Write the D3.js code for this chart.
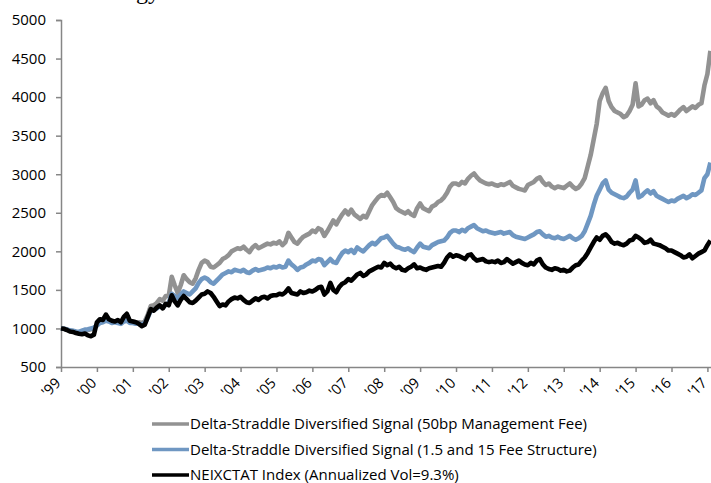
<!DOCTYPE html>
<html><head><meta charset="utf-8">
<script src="https://cdn.jsdelivr.net/npm/d3@7"></script>
<style>
html,body{margin:0;padding:0;background:#fff;}
svg{display:block;}
text{font-family:"Open Sans","Noto Sans",sans-serif;}
</style></head>
<body>
<svg id="c" width="711" height="483"></svg>
<script>
// Monthly observations starting Jan 1999
const startYear = 1999;
const yTicks = [500,1000,1500,2000,2500,3000,3500,4000,4500,5000];
const xTickYears = [1999,2000,2001,2002,2003,2004,2005,2006,2007,2008,2009,2010,2011,2012,2013,2014,2015,2016,2017];
const xTickLabels = ["'99","'00","'01","'02","'03","'04","'05","'06","'07","'08","'09","'10","'11","'12","'13","'14","'15","'16","'17"];
const seriesNames = [
  "Delta-Straddle Diversified Signal (50bp Management Fee)",
  "Delta-Straddle Diversified Signal (1.5 and 15 Fee Structure)",
  "NEIXCTAT Index (Annualized Vol=9.3%)"
];
const gray50bp = [
  1000,995,985,970,965,955,950,960,975,980,990,1000,
  1040,1080,1090,1120,1100,1080,1090,1090,1070,1110,1120,1090,
  1090,1080,1080,1070,1090,1180,1290,1300,1330,1380,1360,1420,
  1420,1670,1560,1460,1560,1690,1640,1600,1580,1650,1760,1850,
  1880,1860,1800,1790,1820,1850,1900,1920,1950,2000,2020,2040,
  2030,2060,2020,1990,2050,2080,2040,2060,2080,2100,2090,2110,
  2100,2130,2080,2120,2240,2180,2120,2100,2150,2190,2210,2230,
  2270,2250,2300,2280,2200,2260,2330,2400,2350,2420,2480,2530,
  2480,2540,2480,2450,2420,2460,2440,2520,2600,2650,2700,2730,
  2720,2760,2700,2640,2560,2530,2510,2490,2520,2480,2460,2560,
  2620,2560,2540,2520,2580,2600,2640,2660,2700,2760,2840,2880,
  2880,2860,2900,2880,2940,2980,3010,2960,2920,2900,2880,2870,
  2880,2860,2850,2870,2860,2880,2900,2850,2830,2810,2800,2790,
  2860,2880,2900,2940,2960,2900,2860,2880,2840,2820,2840,2830,
  2820,2850,2880,2840,2810,2830,2880,2950,3100,3250,3450,3650,
  3950,4050,4120,3950,3870,3820,3800,3780,3740,3760,3820,3900,
  4180,3880,3900,3960,3980,3920,3960,3880,3850,3800,3780,3760,
  3780,3760,3800,3840,3870,3820,3850,3880,3860,3900,3920,4150,
  4300,4600
];
const blueFee = [
  1000,995,985,975,970,960,955,970,985,990,1000,1010,
  1040,1070,1080,1100,1090,1070,1080,1070,1060,1090,1100,1070,
  1070,1060,1060,1050,1070,1140,1230,1240,1260,1290,1270,1310,
  1330,1450,1420,1390,1440,1480,1460,1440,1480,1520,1590,1640,
  1660,1640,1600,1580,1620,1660,1700,1720,1740,1730,1760,1750,
  1740,1760,1730,1720,1750,1770,1750,1760,1770,1790,1780,1800,
  1790,1810,1790,1800,1880,1830,1800,1760,1790,1800,1830,1850,
  1880,1870,1900,1890,1820,1860,1900,1860,1850,1920,1980,2010,
  1990,2020,1980,2050,2020,2000,2040,2080,2110,2090,2130,2170,
  2180,2200,2150,2100,2060,2050,2030,2020,2040,2010,1990,2050,
  2100,2060,2050,2040,2080,2100,2120,2130,2140,2180,2240,2270,
  2270,2250,2280,2260,2300,2320,2340,2300,2280,2260,2270,2250,
  2240,2230,2240,2250,2230,2240,2250,2210,2190,2180,2170,2160,
  2180,2200,2220,2250,2260,2220,2190,2200,2180,2170,2190,2170,
  2160,2180,2200,2170,2150,2170,2200,2260,2360,2460,2600,2720,
  2800,2880,2920,2800,2760,2740,2720,2700,2690,2710,2760,2800,
  2920,2700,2720,2760,2790,2750,2780,2720,2700,2680,2660,2640,
  2660,2650,2680,2700,2720,2690,2710,2740,2730,2760,2790,2950,
  3000,3150
];
const blackIndex = [
  1000,995,980,960,955,940,930,925,935,910,900,920,
  1080,1120,1110,1180,1120,1100,1090,1110,1080,1150,1190,1100,
  1090,1080,1060,1030,1050,1150,1250,1230,1270,1300,1260,1320,
  1300,1430,1350,1300,1370,1420,1380,1340,1330,1360,1400,1440,
  1450,1480,1460,1410,1350,1290,1310,1300,1350,1380,1400,1390,
  1410,1370,1340,1330,1360,1390,1370,1400,1410,1390,1420,1430,
  1430,1450,1440,1470,1520,1460,1450,1440,1480,1460,1470,1490,
  1480,1500,1530,1540,1440,1480,1590,1500,1470,1540,1580,1600,
  1640,1620,1660,1700,1720,1680,1700,1740,1760,1780,1800,1790,
  1850,1820,1840,1800,1780,1800,1760,1750,1780,1800,1830,1780,
  1790,1770,1760,1780,1790,1800,1810,1800,1850,1920,1960,1930,
  1950,1940,1920,1900,1950,1960,1910,1880,1890,1900,1870,1860,
  1870,1860,1880,1850,1860,1900,1870,1840,1860,1880,1850,1830,
  1820,1850,1830,1880,1900,1830,1790,1770,1760,1780,1770,1750,
  1760,1740,1750,1790,1820,1830,1880,1920,1980,2050,2120,2180,
  2150,2200,2220,2180,2120,2100,2110,2090,2080,2100,2140,2150,
  2200,2180,2150,2110,2120,2150,2100,2090,2080,2060,2040,2010,
  2010,1990,1970,1950,1920,1930,1960,1910,1940,1970,1990,2010,
  2080,2140
];
const seriesValues = [gray50bp, blueFee, blackIndex];
const seriesColors = ["#929292", "#6f97c2", "#000000"];

const svg = d3.select("#c");
const x = d3.scaleLinear().domain([1999, 2017.1]).range([61, 711]);
const y = d3.scaleLinear().domain([500, 5000]).range([367, 20]);

// title fragment (cut off at top)
svg.append("text").attr("x", 160).attr("y", -1).attr("text-anchor", "end")
  .style("font-family", "'Liberation Serif',serif").style("font-size", "24px")
  .attr("fill", "#000").text("Strategy");

const axisColor = "#868686";
// y axis
const ya = svg.append("g").attr("transform", "translate(61,0)")
  .call(d3.axisLeft(y).tickValues(yTicks).tickSize(5).tickPadding(10).tickFormat(d3.format("d")));
ya.select(".domain").attr("stroke", axisColor).attr("stroke-width", 1.5);
ya.selectAll(".tick line").attr("stroke", axisColor).attr("stroke-width", 1.5);
ya.selectAll(".tick text").attr("fill", "#000").style("font-size", "15px")
  .style("font-family", "'Open Sans',sans-serif");

// x axis
const xa = svg.append("g").attr("transform", "translate(0,367)")
  .call(d3.axisBottom(x).tickValues(xTickYears).tickSize(5).tickSizeOuter(0)
    .tickFormat((d, i) => xTickLabels[i]));
xa.select(".domain").attr("stroke", axisColor).attr("stroke-width", 1.5);
xa.selectAll(".tick line").attr("stroke", axisColor).attr("stroke-width", 1.5);
xa.selectAll(".tick text").attr("fill", "#000").style("font-size", "14.5px")
  .style("font-family", "'Open Sans',sans-serif")
  .attr("text-anchor", "end").attr("dy", null).attr("y", 0)
  .attr("transform", "translate(0,17) rotate(-45)");

// lines
const line = d3.line().x((d, i) => x(startYear + i / 12)).y(d => y(d));
seriesValues.forEach((vals, k) => {
  svg.append("path").datum(vals)
    .attr("fill", "none").attr("stroke", seriesColors[k])
    .attr("stroke-width", 4.6).attr("stroke-linejoin", "round")
    .attr("d", line);
});

// legend
const lg = svg.append("g");
seriesNames.forEach((name, k) => {
  const ly = 424 + k * 25.5;
  lg.append("line").attr("x1", 152).attr("x2", 189).attr("y1", ly).attr("y2", ly)
    .attr("stroke", seriesColors[k]).attr("stroke-width", 3.5);
  lg.append("text").attr("x", 190).attr("y", ly).attr("dy", "0.35em")
    .style("font-size", "15px").attr("fill", "#000").text(name);
});
</script>
</body></html>
